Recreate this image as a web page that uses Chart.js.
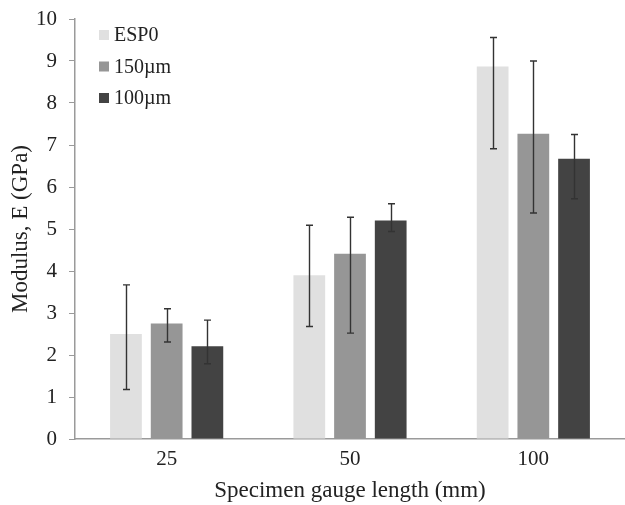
<!DOCTYPE html>
<html>
<head>
<meta charset="utf-8">
<script src="https://cdn.jsdelivr.net/npm/chart.js@4"></script>
<style>
  html, body { margin: 0; padding: 0; background: #fff; }
  #wrap { width: 625px; height: 505px; }
</style>
</head>
<body>
<div id="wrap"><canvas id="modulusChart"></canvas></div>
<script>
// Kategorien (Messlänge in mm)
const gaugeLengths = ['25', '50', '100'];

// Mittelwerte E-Modul (GPa)
const esp0Values = [2.50, 3.90, 8.87];
const um150Values = [2.75, 4.41, 7.27];
const um100Values = [2.21, 5.20, 6.67];

// Fehlerbalken: obere und untere Grenze
const esp0High = [3.67, 5.09, 9.56];
const esp0Low = [1.18, 2.68, 6.91];
const um150High = [3.10, 5.28, 9.00];
const um150Low = [2.31, 2.52, 5.38];
const um100High = [2.83, 5.60, 7.25];
const um100Low = [1.79, 4.94, 5.72];

const yTicks = [0, 1, 2, 3, 4, 5, 6, 7, 8, 9, 10];

const serif = "'Liberation Serif', 'DejaVu Serif', serif";

// Fehlerbalken zeichnen
const errorBarPlugin = {
    id: 'errorBars',
    afterDatasetsDraw(chart) {
        const ctx = chart.ctx;
        const y = chart.scales.y;
        ctx.save();
        ctx.strokeStyle = '#333333';
        ctx.lineWidth = 1.4;
        chart.data.datasets.forEach((ds, i) => {
            const meta = chart.getDatasetMeta(i);
            meta.data.forEach((bar, j) => {
                const top = y.getPixelForValue(ds.errHigh[j]);
                const bottom = y.getPixelForValue(ds.errLow[j]);
                const x = Math.round(bar.x) + 0.5;
                ctx.beginPath();
                ctx.moveTo(x, top);
                ctx.lineTo(x, bottom);
                ctx.moveTo(x - 3.5, top);
                ctx.lineTo(x + 3.5, top);
                ctx.moveTo(x - 3.5, bottom);
                ctx.lineTo(x + 3.5, bottom);
                ctx.stroke();
            });
        });
        ctx.restore();
    }
};

// Legende innerhalb der Zeichenfläche oben links
const innerLegendPlugin = {
    id: 'innerLegend',
    afterDraw(chart) {
        const ctx = chart.ctx;
        ctx.save();
        ctx.font = '20px ' + serif;
        ctx.textBaseline = 'middle';
        chart.data.datasets.forEach((ds, i) => {
            const cy = 35 + i * 31.5;
            ctx.fillStyle = ds.backgroundColor;
            ctx.fillRect(99, cy - 5, 10, 10);
            ctx.fillStyle = '#222';
            ctx.fillText(ds.label, 114, cy + 1);
        });
        ctx.restore();
    }
};

function initChart() {
    const ctx = document.getElementById('modulusChart').getContext('2d');
    new Chart(ctx, {
        type: 'bar',
        data: {
            labels: gaugeLengths,
            datasets: [
                { label: 'ESP0', data: esp0Values, errHigh: esp0High, errLow: esp0Low, backgroundColor: '#e0e0e0' },
                { label: '150\u00b5m', data: um150Values, errHigh: um150High, errLow: um150Low, backgroundColor: '#969696' },
                { label: '100\u00b5m', data: um100Values, errHigh: um100High, errLow: um100Low, backgroundColor: '#434343' }
            ]
        },
        options: {
            responsive: true,
            maintainAspectRatio: false,
            animation: false,
            categoryPercentage: 0.666,
            barPercentage: 0.78,
            layout: { padding: { top: 19, right: -4, left: 0, bottom: 0 } },
            plugins: {
                legend: { display: false },
                tooltip: { enabled: false }
            },
            scales: {
                x: {
                    afterFit(scale) { scale.height = 66; },
                    grid: { drawOnChartArea: false, drawTicks: false },
                    border: { color: '#9a9a9a', width: 1.5 },
                    ticks: { color: '#222', font: { family: serif, size: 21 }, padding: 8 },
                    title: {
                        display: true,
                        text: 'Specimen gauge length (mm)',
                        color: '#222',
                        font: { family: serif, size: 23 },
                        padding: { top: 0, bottom: 0 }
                    }
                },
                y: {
                    min: 0,
                    max: 10,
                    afterBuildTicks(scale) {
                        scale.ticks = yTicks.map(v => ({ value: v }));
                    },
                    afterFit(scale) {
                        scale.width = 75;
                        scale.paddingTop = 0;
                        scale.paddingBottom = 0;
                    },
                    grid: { drawOnChartArea: false, drawTicks: true, tickLength: 6, color: '#9a9a9a' },
                    border: { color: '#9a9a9a', width: 1.5 },
                    ticks: { color: '#222', font: { family: serif, size: 21 }, padding: 12 },
                    title: {
                        display: true,
                        text: 'Modulus, E (GPa)',
                        color: '#222',
                        font: { family: serif, size: 23 },
                        padding: { top: 7, bottom: 0 }
                    }
                }
            }
        },
        plugins: [errorBarPlugin, innerLegendPlugin]
    });
}

document.addEventListener('DOMContentLoaded', initChart);
</script>
</body>
</html>
